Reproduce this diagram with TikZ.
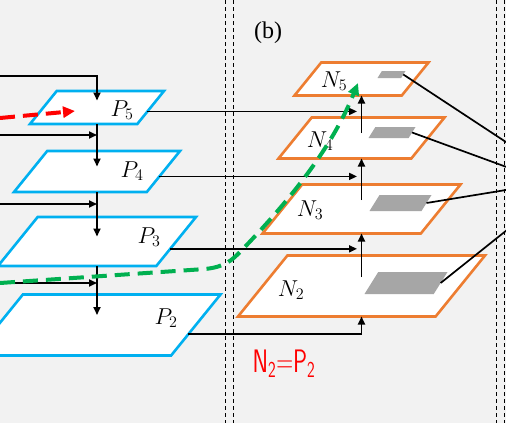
\RequirePackage{fix-cm}
\documentclass[tikz,border=0pt]{standalone}
\usepackage{fontspec}
\newfontfamily\tagfont{Liberation Serif}
\usetikzlibrary{positioning,arrows.meta,calc,shapes.geometric}
\definecolor{topdown}{HTML}{00B0F0}
\definecolor{bottomup}{HTML}{ED7D31}
\definecolor{patch}{HTML}{A6A6A6}
\definecolor{panel}{HTML}{F2F2F2}
\definecolor{route}{HTML}{00B050}
\definecolor{note}{HTML}{FF0000}
\tikzset{
  plane/.style={trapezium, trapezium left angle=51, trapezium right angle=129, trapezium stretches body, fill=white, line width=2.6pt, inner xsep=0pt, outer sep=0pt},
  pmap/.style={plane, draw=topdown},
  nmap/.style={plane, draw=bottomup},
  lv5/.style={minimum width=134pt, inner ysep=16.5pt},
  lv4/.style={minimum width=166pt, inner ysep=20.5pt},
  lv3/.style={minimum width=198pt, inner ysep=24.5pt},
  lv2/.style={minimum width=247pt, inner ysep=30.5pt},
  roi/.style={trapezium, trapezium left angle=58, trapezium right angle=122, trapezium stretches body, fill=patch, inner xsep=0pt, outer sep=0pt},
  lbl/.style={inner sep=0pt, font=\fontsize{23}{27}\selectfont},
  arr/.style={-{Triangle[length=8pt, width=7pt]}, line width=1.7pt},
  feat/.style={line width=1.7pt},
  sep/.style={line width=0.8pt, dash pattern=on 4pt off 3pt},
  shortcut/.style={line width=4pt, dash pattern=on 15pt off 8pt, -{Triangle[length=12pt, width=11pt]}}}

\begin{document}
\begin{tikzpicture}[x=1pt, y=-1pt]
\fill[panel] (0,0) rectangle (506,423);
\clip (0,0) rectangle (506,423);
% column separators
\draw[sep] (225.5,0) -- (225.5,423); \draw[sep] (233.5,0) -- (233.5,423);
\draw[sep] (496.5,0) -- (496.5,423); \draw[sep] (504.5,0) -- (504.5,423);
% top-down pyramid
\node[pmap, lv5] (P5) at (97,107.5) {};
\node[pmap, lv4] (P4) at (97,171.5) {};
\node[pmap, lv3] (P3) at (97,241.5) {};
\node[pmap, lv2] (P2) at (97,325) {};
\node[lbl] (P5l) at (122,110) {$P_5$};
\node[lbl] (P4l) at (132,171) {$P_4$};
\node[lbl] (P3l) at (149,237) {$P_3$};
\node[lbl] (P2l) at (166,318) {$P_2$};
% bottom-up pyramid
\node[nmap, lv5] (N5) at (361.5,79) {};
\node[nmap, lv4] (N4) at (361.5,138) {};
\node[nmap, lv3] (N3) at (361.5,209) {};
\node[nmap, lv2] (N2) at (361.5,286) {};
\node[lbl] (N5l) at (334,81) {$N_5$};
\node[lbl] (N4l) at (320,141) {$N_4$};
\node[lbl] (N3l) at (310,210) {$N_3$};
\node[lbl] (N2l) at (291,290) {$N_2$};
\node[roi, minimum width=28pt, inner ysep=3.5pt] (G5) at (391.5,74.5) {};
\node[roi, minimum width=47pt, inner ysep=5.5pt] (G4) at (392,132.5) {};
\node[roi, minimum width=62pt, inner ysep=8pt] (G3) at (400.5,203) {};
\node[roi, minimum width=83pt, inner ysep=11pt] (G2) at (406,283) {};
\node[inner sep=0pt, font=\tagfont\fontsize{24}{28}\selectfont] (tag) at (268,33) {(b)};
\node[inner sep=0pt, text=note, font=\fontsize{26}{30}\selectfont] (eq) at (284,364) {\scalebox{0.9}[1.25]{$\mathsf{N}_{\mathsf{2}}{=}\mathsf{P}_{\mathsf{2}}$}};
% free ends
\coordinate (in5) at (0,76); \coordinate (in4) at (0,135);
\coordinate (in3) at (0,204); \coordinate (in2) at (0,283);
\coordinate (nx) at (357,0);
\coordinate (out5) at (512,146); \coordinate (out4) at (512,169);
\coordinate (out3) at (512,189); \coordinate (out2) at (512,226);
\path ($(P5.bottom right corner)!0.38!(P5.top right corner)$) coordinate (o5);
\path ($(P4.bottom right corner)!0.38!(P4.top right corner)$) coordinate (o4);
\path ($(P3.bottom right corner)!0.35!(P3.top right corner)$) coordinate (o3);
\path ($(P2.bottom right corner)!0.35!(P2.top right corner)$) coordinate (o2);
% top-down path
\draw[arr] (in5) -| ($(P5.center)+(0,-7)$);
\draw[arr] (P5.center |- P5.south) -- ($(P4.center)+(0,-5)$);
\draw[arr] (P4.center |- P4.south) -- ($(P3.center)+(0,-5)$);
\draw[arr] (P3.center |- P3.south) -- ($(P2.center)+(0,-10)$);
\draw[arr] (in4) -- (in4 -| P5.center);
\draw[arr] (in3) -- (in3 -| P4.center);
\draw[arr] (in2) -- (in2 -| P3.center);
% lateral links
\draw[arr] (o5) -- (o5 -| nx);
\draw[arr] (o4) -- (o4 -| nx);
\draw[arr] (o3) -- (o3 -| nx);
\draw[arr] (o2) -| (N2.center |- N2.south);
% bottom-up path
\draw[arr] ($(N4.center)+(0,-5)$) -- (N4.center |- N5.south);
\draw[arr] ($(N3.center)+(0,-9)$) -- (N3.center |- N4.south);
\draw[arr] ($(N2.center)+(0,-9)$) -- (N2.center |- N3.south);
% pooled features
\draw[feat] (G5.east) -- (out5);
\draw[feat] (G4.east) -- (out4);
\draw[feat] (G3.east) -- (out3);
\draw[feat] (G2.east) -- (out2);
% shortcuts
\draw[shortcut, note] (0,118) -- (75,111);
\draw[shortcut, route] (in2) -- (205,269) .. controls (225,267) and (232,260) .. (240,252) .. controls (300,190) and (335,140) .. (358,83);
\end{tikzpicture}
\end{document}
